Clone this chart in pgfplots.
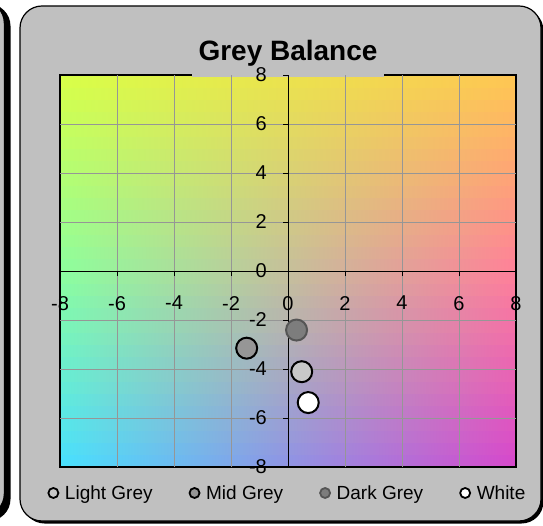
\documentclass[border=0pt]{standalone}
\usepackage{fontspec}
\setmainfont{Liberation Sans}
\usepackage{pgfplots}
\pgfplotsset{compat=1.18}
\definecolor{panelgray}{RGB}{192,192,192}
\definecolor{gridgray}{RGB}{150,150,150}
\definecolor{lightg}{RGB}{200,200,200}
\definecolor{midg}{RGB}{150,150,150}
\definecolor{darkg}{RGB}{125,125,125}
\definecolor{darkgb}{RGB}{85,85,85}
\definecolor{cTL}{RGB}{217,255,71}
\definecolor{cTC}{RGB}{255,255,82}
\definecolor{cTR}{RGB}{255,199,82}
\definecolor{cML}{RGB}{140,255,158}
\definecolor{cC}{RGB}{217,212,153}
\definecolor{cMR}{RGB}{255,128,153}
\definecolor{cBL}{RGB}{71,224,255}
\definecolor{cBC}{RGB}{133,133,224}
\definecolor{cBR}{RGB}{214,71,204}
\pgfplotsset{
  mk/.style n args={2}{only marks, mark=*, mark size=10.5pt,
    mark options={fill=#1, draw=#2, line width=2pt},
    legend image code/.code={\draw[fill=#1, draw=#2, line width=1.8pt] (5.5pt,0pt) circle (5pt);}},
  bg/.style={draw=none, mark=none, forget plot},
  bgU/.style={bg, left color=cTL!#1!cML, middle color=cTC!#1!cC, right color=cTR!#1!cMR},
  bgL/.style={bg, left color=cML!#1!cBL, middle color=cC!#1!cBC, right color=cMR!#1!cBR},
  geom/.style={at={(60pt,-467pt)}, anchor=south west,
    scale only axis, width=456pt, height=392pt,
    xmin=-8, xmax=8, ymin=-8, ymax=8, clip=false},
}
\begin{document}
\begin{tikzpicture}
\path (0pt,0pt) rectangle (543pt,-526pt);
% left panel (partly visible)
\fill[overlay, black, rounded corners=22pt] (-300pt,-4pt) rectangle (10.5pt,-521pt);
\filldraw[overlay, fill=panelgray, draw=black, line width=2.5pt, rounded corners=22pt] (-300pt,-1pt) rectangle (5pt,-516pt);
% right panel
\fill[overlay, black, rounded corners=22pt] (22.5pt,-8.5pt) rectangle (543.5pt,-523.5pt);
\filldraw[overlay, fill=panelgray, draw=black, line width=1.2pt, rounded corners=22pt] (20pt,-6pt) rectangle (541pt,-521pt);
% ---------- axis 1: background, frame, grid, axes, tick labels ----------
\begin{axis}[
  geom,
  axis on top,
  axis lines=middle,
  axis line style={-, black, line width=0.8pt},
  hide obscured x ticks=false, hide obscured y ticks=false,
  xtick={-6,-4,...,6}, ytick={-6,-4,...,6},
  extra x ticks={-8,8}, extra y ticks={-8,8},
  extra tick style={grid=none},
  grid=major,
  grid style={gridgray, line width=0.8pt},
  tick align=outside,
  major tick length=5pt,
  tick style={black, line width=0.8pt},
  /pgf/number format/assume math mode=true,
  tick label style={font=\fontsize{20}{24}\selectfont, inner sep=0pt},
  xticklabel style={anchor=north, yshift=-20pt},
  yticklabel style={anchor=east, xshift=-16pt},
]
% colour-plane background, lower half (bottom row -> middle row)
\addplot[bgL=3]  coordinates {(-8,-8.0) (8,-8.0) (8,-7.47) (-8,-7.47)} -- cycle;
\addplot[bgL=9]  coordinates {(-8,-7.5) (8,-7.5) (8,-6.97) (-8,-6.97)} -- cycle;
\addplot[bgL=16] coordinates {(-8,-7.0) (8,-7.0) (8,-6.47) (-8,-6.47)} -- cycle;
\addplot[bgL=22] coordinates {(-8,-6.5) (8,-6.5) (8,-5.97) (-8,-5.97)} -- cycle;
\addplot[bgL=28] coordinates {(-8,-6.0) (8,-6.0) (8,-5.47) (-8,-5.47)} -- cycle;
\addplot[bgL=34] coordinates {(-8,-5.5) (8,-5.5) (8,-4.97) (-8,-4.97)} -- cycle;
\addplot[bgL=41] coordinates {(-8,-5.0) (8,-5.0) (8,-4.47) (-8,-4.47)} -- cycle;
\addplot[bgL=47] coordinates {(-8,-4.5) (8,-4.5) (8,-3.97) (-8,-3.97)} -- cycle;
\addplot[bgL=53] coordinates {(-8,-4.0) (8,-4.0) (8,-3.47) (-8,-3.47)} -- cycle;
\addplot[bgL=59] coordinates {(-8,-3.5) (8,-3.5) (8,-2.97) (-8,-2.97)} -- cycle;
\addplot[bgL=66] coordinates {(-8,-3.0) (8,-3.0) (8,-2.47) (-8,-2.47)} -- cycle;
\addplot[bgL=72] coordinates {(-8,-2.5) (8,-2.5) (8,-1.97) (-8,-1.97)} -- cycle;
\addplot[bgL=78] coordinates {(-8,-2.0) (8,-2.0) (8,-1.47) (-8,-1.47)} -- cycle;
\addplot[bgL=84] coordinates {(-8,-1.5) (8,-1.5) (8,-0.97) (-8,-0.97)} -- cycle;
\addplot[bgL=91] coordinates {(-8,-1.0) (8,-1.0) (8,-0.47) (-8,-0.47)} -- cycle;
\addplot[bgL=97] coordinates {(-8,-0.5) (8,-0.5) (8,0.03) (-8,0.03)} -- cycle;
% upper half (middle row -> top row)
\addplot[bgU=3]  coordinates {(-8,0.0) (8,0.0) (8,0.53) (-8,0.53)} -- cycle;
\addplot[bgU=9]  coordinates {(-8,0.5) (8,0.5) (8,1.03) (-8,1.03)} -- cycle;
\addplot[bgU=16] coordinates {(-8,1.0) (8,1.0) (8,1.53) (-8,1.53)} -- cycle;
\addplot[bgU=22] coordinates {(-8,1.5) (8,1.5) (8,2.03) (-8,2.03)} -- cycle;
\addplot[bgU=28] coordinates {(-8,2.0) (8,2.0) (8,2.53) (-8,2.53)} -- cycle;
\addplot[bgU=34] coordinates {(-8,2.5) (8,2.5) (8,3.03) (-8,3.03)} -- cycle;
\addplot[bgU=41] coordinates {(-8,3.0) (8,3.0) (8,3.53) (-8,3.53)} -- cycle;
\addplot[bgU=47] coordinates {(-8,3.5) (8,3.5) (8,4.03) (-8,4.03)} -- cycle;
\addplot[bgU=53] coordinates {(-8,4.0) (8,4.0) (8,4.53) (-8,4.53)} -- cycle;
\addplot[bgU=59] coordinates {(-8,4.5) (8,4.5) (8,5.03) (-8,5.03)} -- cycle;
\addplot[bgU=66] coordinates {(-8,5.0) (8,5.0) (8,5.53) (-8,5.53)} -- cycle;
\addplot[bgU=72] coordinates {(-8,5.5) (8,5.5) (8,6.03) (-8,6.03)} -- cycle;
\addplot[bgU=78] coordinates {(-8,6.0) (8,6.0) (8,6.53) (-8,6.53)} -- cycle;
\addplot[bgU=84] coordinates {(-8,6.5) (8,6.5) (8,7.03) (-8,7.03)} -- cycle;
\addplot[bgU=91] coordinates {(-8,7.0) (8,7.0) (8,7.53) (-8,7.53)} -- cycle;
\addplot[bgU=97] coordinates {(-8,7.5) (8,7.5) (8,8.0) (-8,8.0)} -- cycle;
% frame and title box
\addplot[draw=black, line width=2.5pt, mark=none, forget plot]
  coordinates {(-8,-8) (8,-8) (8,8) (-8,8)} -- cycle;
\addplot[fill=panelgray, draw=none, mark=none, forget plot]
  coordinates {(-3.37,7.93) (3.37,7.93) (3.37,9.8) (-3.37,9.8)} -- cycle;
\end{axis}
% ---------- axis 2: data points and legend, on top ----------
\begin{axis}[
  geom,
  hide axis,
  legend columns=4,
  legend style={at={(axis description cs:0.4965,-0.0663)}, anchor=center,
     draw=none, fill=none, inner sep=0pt,
     font=\fontsize{19}{23}\selectfont, nodes={inner sep=0pt},
     /tikz/every odd column/.append style={column sep=5.7pt},
     /tikz/every even column/.append style={column sep=36pt}},
]
\addplot[mk={lightg}{black}] coordinates {(0.48,-4.11)};
\addlegendentry{Light Grey}
\addplot[mk={midg}{black}] coordinates {(-1.45,-3.15)};
\addlegendentry{Mid Grey}
\addplot[mk={darkg}{darkgb}] coordinates {(0.30,-2.41)};
\addlegendentry{Dark Grey}
\addplot[mk={white}{black}] coordinates {(0.71,-5.37)};
\addlegendentry{White}
\end{axis}
\node[anchor=base, font=\fontsize{28}{34}\selectfont\bfseries] at (288pt,-61pt) {Grey Balance};
\end{tikzpicture}
\end{document}
